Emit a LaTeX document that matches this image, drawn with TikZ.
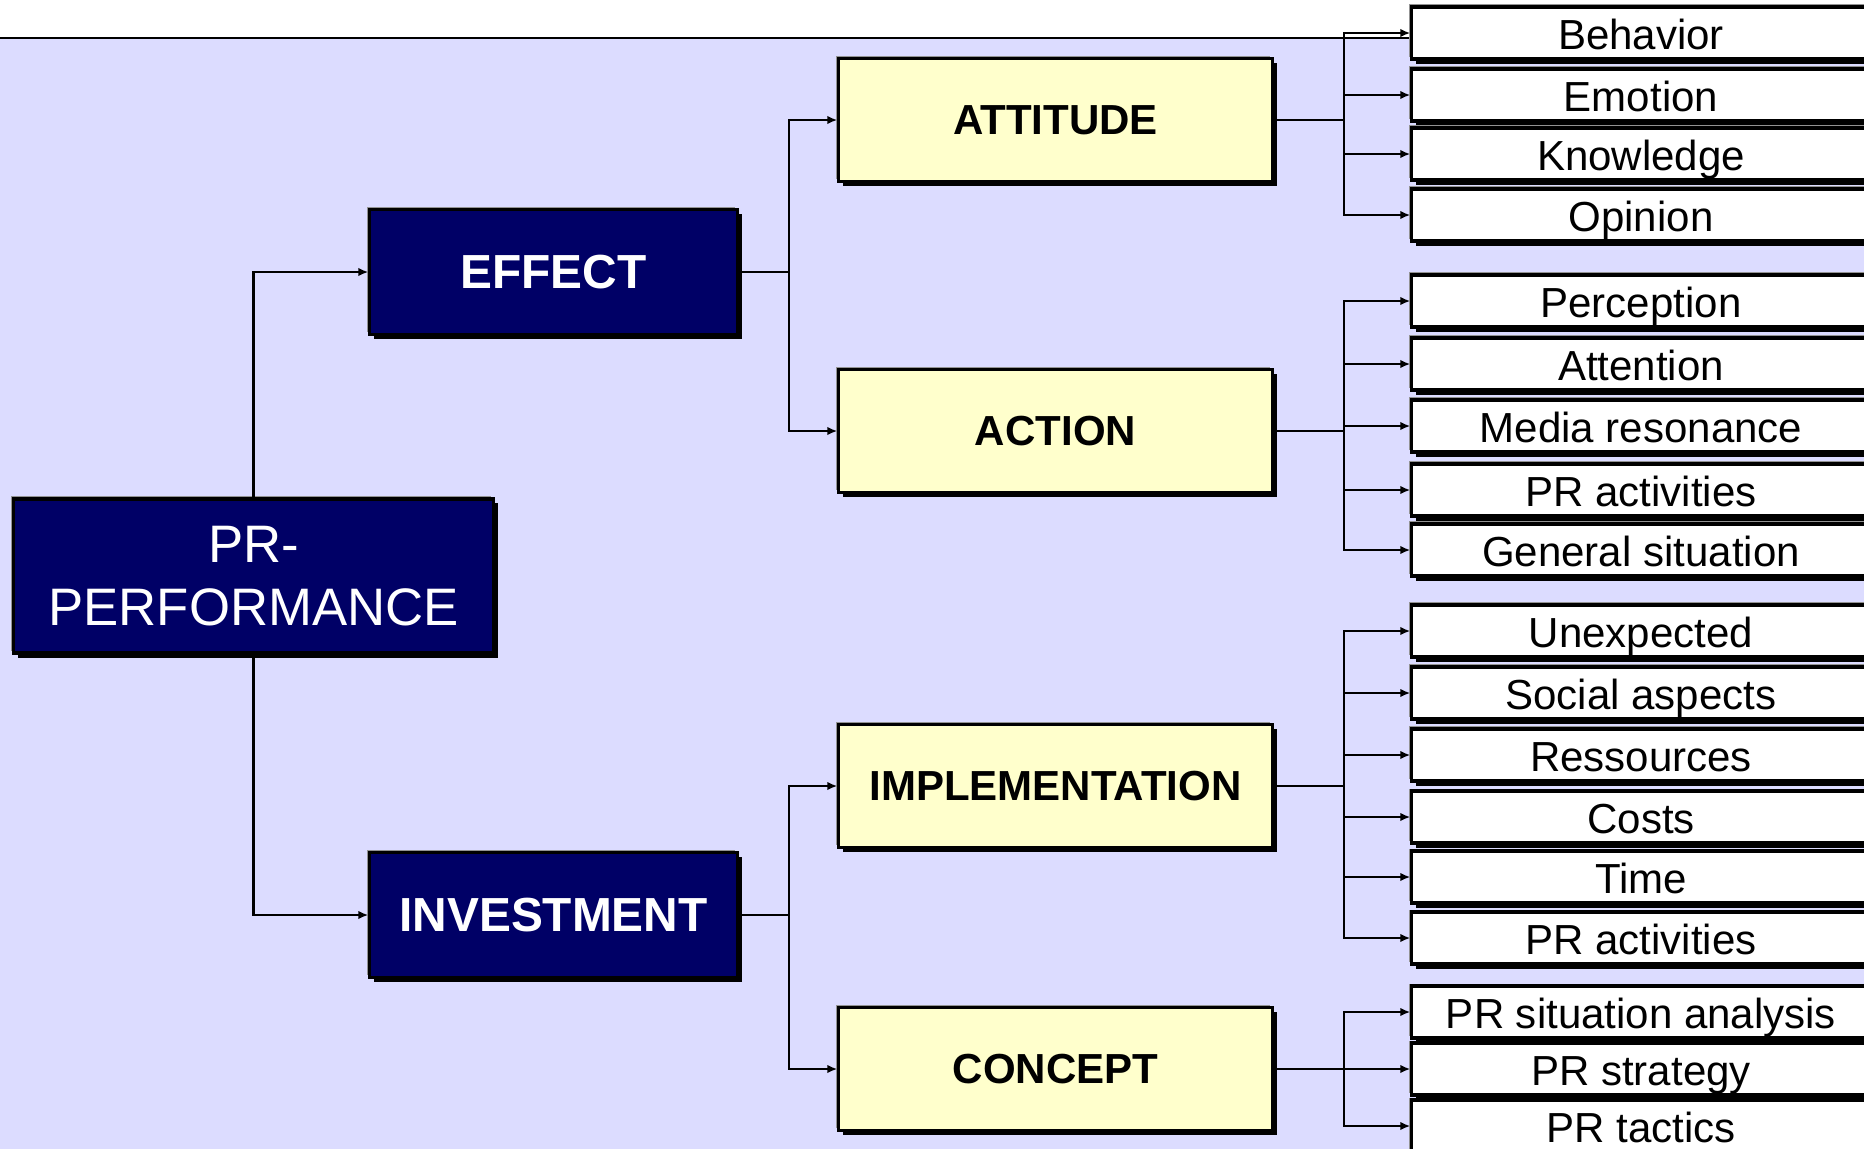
\documentclass[tikz,border=0pt]{standalone}
\usepackage{fontspec}
\setmainfont{Liberation Sans}
\usepackage{tikz}
\usetikzlibrary{arrows.meta,shadows}

\definecolor{bglav}{HTML}{DCDCFF}
\definecolor{navy}{HTML}{000066}
\definecolor{paleyel}{HTML}{FFFFCC}

\tikzset{
  boxshade/.style={general shadow={fill=gray!85,shadow xshift=-0.025cm,shadow yshift=0.025cm},
                   general shadow={fill=black,shadow xshift=0.045cm,shadow yshift=-0.045cm}},
  rootbox/.style={boxshade,draw=black,line width=0.9pt,fill=navy,text=white,align=center,
                  minimum width=4.79cm,minimum height=1.54cm,inner sep=0pt,
                  font=\fontsize{15}{17.9}\selectfont},
  mainbox/.style={boxshade,draw=black,line width=0.9pt,fill=navy,text=white,
                  minimum width=3.67cm,minimum height=1.25cm,inner sep=0pt,
                  font=\fontsize{13.6}{16}\selectfont\bfseries},
  subbox/.style={boxshade,draw=black,line width=0.9pt,fill=paleyel,text=black,
                 minimum width=4.33cm,minimum height=1.23cm,inner sep=0pt,
                 font=\fontsize{11.95}{14}\selectfont\bfseries},
  leafbox/.style={boxshade,draw=black,line width=0.9pt,fill=white,text=black,
                  minimum width=4.58cm,minimum height=0.52cm,inner sep=0pt,
                  text height=0.325cm,text depth=0cm,
                  font=\fontsize{11.95}{14}\selectfont},
  arr/.style={-{Latex[length=0.1cm,width=0.085cm]},line width=0.6pt}
}

\begin{document}
\begin{tikzpicture}[x=0.01cm,y=-0.01cm]
\useasboundingbox (0,0) rectangle (1864,1148);
% background
\fill[bglav] (-10,38) rectangle (1900,1170);
\draw[line width=0.6pt] (-10,38) -- (1900,38);

% root and first level
\node[rootbox] (perf) at (253.5,576) {PR-\\PERFORMANCE};
\node[mainbox] (effect) at (553.5,272) {EFFECT};
\node[mainbox] (invest) at (553.5,915) {INVESTMENT};

% second level
\node[subbox] (attit) at (1055.5,120) {ATTITUDE};
\node[subbox] (action) at (1055.5,431) {ACTION};
\node[subbox] (implem) at (1055.5,786) {IMPLEMENTATION};
\node[subbox] (concept) at (1055.5,1069) {CONCEPT};

% leaves
\node[leafbox] (behav) at (1641,33) {Behavior};
\node[leafbox] (emot) at (1641,95) {Emotion};
\node[leafbox] (knowl) at (1641,154) {Knowledge};
\node[leafbox] (opin) at (1641,215) {Opinion};

\node[leafbox] (percep) at (1641,301) {Perception};
\node[leafbox] (attent) at (1641,364) {Attention};
\node[leafbox] (media) at (1641,426) {Media resonance};
\node[leafbox] (pract) at (1641,490) {PR activities};
\node[leafbox] (gensit) at (1641,550) {General situation};

\node[leafbox] (unexp) at (1641,631) {Unexpected};
\node[leafbox] (social) at (1641,693) {Social aspects};
\node[leafbox] (resso) at (1641,755) {Ressources};
\node[leafbox] (costs) at (1641,817) {Costs};
\node[leafbox] (time) at (1641,877) {Time};
\node[leafbox] (practb) at (1641,938) {PR activities};

\node[leafbox] (sitan) at (1641,1012) {PR situation analysis};
\node[leafbox] (strat) at (1641,1069) {PR strategy};
\node[leafbox] (tact) at (1641,1126) {PR tactics};

% connectors
\draw[arr] (perf.north) |- (effect.west);
\draw[arr] (perf.south) |- (invest.west);

\draw[arr] (effect.east) -- ++(50,0) |- (attit.west);
\draw[arr] (effect.east) -- ++(50,0) |- (action.west);
\draw[arr] (invest.east) -- ++(50,0) |- (implem.west);
\draw[arr] (invest.east) -- ++(50,0) |- (concept.west);

\draw[arr] (attit.east) -- ++(70,0) |- (behav.west);
\draw[arr] (attit.east) -- ++(70,0) |- (emot.west);
\draw[arr] (attit.east) -- ++(70,0) |- (knowl.west);
\draw[arr] (attit.east) -- ++(70,0) |- (opin.west);

\draw[arr] (action.east) -- ++(70,0) |- (percep.west);
\draw[arr] (action.east) -- ++(70,0) |- (attent.west);
\draw[arr] (action.east) -- ++(70,0) |- (media.west);
\draw[arr] (action.east) -- ++(70,0) |- (pract.west);
\draw[arr] (action.east) -- ++(70,0) |- (gensit.west);

\draw[arr] (implem.east) -- ++(70,0) |- (unexp.west);
\draw[arr] (implem.east) -- ++(70,0) |- (social.west);
\draw[arr] (implem.east) -- ++(70,0) |- (resso.west);
\draw[arr] (implem.east) -- ++(70,0) |- (costs.west);
\draw[arr] (implem.east) -- ++(70,0) |- (time.west);
\draw[arr] (implem.east) -- ++(70,0) |- (practb.west);

\draw[arr] (concept.east) -- ++(70,0) |- (sitan.west);
\draw[arr] (concept.east) -- ++(70,0) |- (strat.west);
\draw[arr] (concept.east) -- ++(70,0) |- (tact.west);
\end{tikzpicture}
\end{document}
